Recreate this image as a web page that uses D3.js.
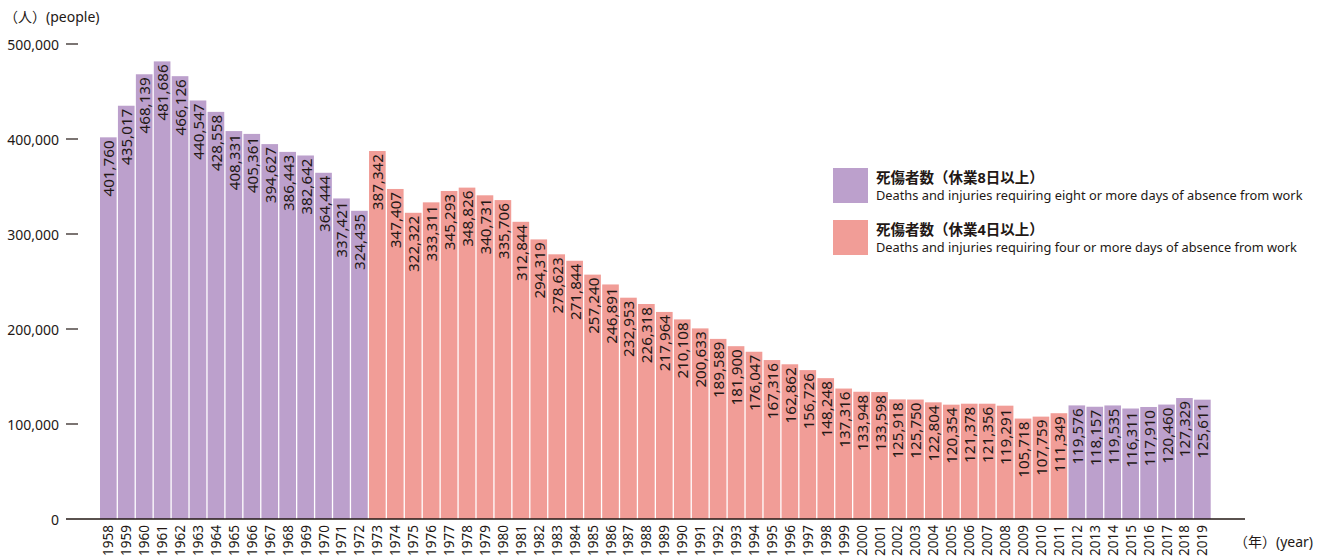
<!DOCTYPE html>
<html>
<head>
<meta charset="utf-8">
<script src="https://cdn.jsdelivr.net/npm/d3@7"></script>
<style>
  body { margin: 0; background: #fff; }
  * { font-family: "Noto Sans", "Noto Sans CJK JP", sans-serif; }
  text { fill: #231815; }
</style>
</head>
<body>
<svg id="chart" width="1325" height="559"></svg>
<script>
// data
var years = d3.range(1958, 2020).map(String);
var values = [401760, 435017, 468139, 481686, 466126, 440547, 428558, 408331, 405361, 394627,
  386443, 382642, 364444, 337421, 324435, 387342, 347407, 322322, 333311, 345293,
  348826, 340731, 335706, 312844, 294319, 278623, 271844, 257240, 246891, 232953,
  226318, 217964, 210108, 200633, 189589, 181900, 176047, 167316, 162862, 156726,
  148248, 137316, 133948, 133598, 125918, 125750, 122804, 120354, 121378, 121356,
  119291, 105718, 107759, 111349, 119576, 118157, 119535, 116311, 117910, 120460,
  127329, 125611];
// which series each year belongs to: 8 = eight+ days, 4 = four+ days
var series = years.map(function(y) { return (+y >= 1973 && +y <= 2011) ? "4" : "8"; });
var yTicks = [0, 100000, 200000, 300000, 400000, 500000];
var legendLabels = [
  { key: "8", jp: "死傷者数（休業8日以上）", en: "Deaths and injuries requiring eight or more days of absence from work" },
  { key: "4", jp: "死傷者数（休業4日以上）", en: "Deaths and injuries requiring four or more days of absence from work" }
];

var color = { "8": "#bca0cc", "4": "#f19d97" };

var svg = d3.select("#chart");

var x = d3.scaleBand().domain(years).range([100, 1212]).padding(0);
var y = d3.scaleLinear().domain([0, 500000]).range([519, 44]);

var fmt = d3.format(",");
var bw = x.bandwidth() - 1.3;

// bars
svg.selectAll("rect.bar")
  .data(values)
  .enter()
  .append("rect")
  .attr("class", "bar")
  .attr("x", function(d, i) { return x(years[i]); })
  .attr("y", function(d) { return y(d); })
  .attr("width", bw)
  .attr("height", function(d) { return y(0) - y(d); })
  .attr("fill", function(d, i) { return color[series[i]]; });

// value labels (rotated)
svg.selectAll("text.val")
  .data(values)
  .enter()
  .append("text")
  .attr("class", "val")
  .attr("transform", function(d, i) {
    return "translate(" + (x(years[i]) + bw / 2) + "," + (y(d) + 3) + ") rotate(-90)";
  })
  .attr("text-anchor", "end")
  .attr("dominant-baseline", "central")
  .style("font-size", "15.2px")
  .text(function(d) { return fmt(d); });

// baseline
svg.append("line")
  .attr("x1", 66).attr("x2", 1245)
  .attr("y1", y(0)).attr("y2", y(0))
  .attr("stroke", "#231815").attr("stroke-width", 1.5);

// y ticks
var yt = svg.selectAll("g.ytick")
  .data(yTicks)
  .enter()
  .append("g")
  .attr("class", "ytick")
  .attr("transform", function(d) { return "translate(0," + y(d) + ")"; });
yt.append("text")
  .attr("x", 59)
  .attr("text-anchor", "end")
  .attr("dominant-baseline", "central")
  .style("font-size", "14px")
  .text(function(d) { return fmt(d); });
yt.filter(function(d) { return d > 0; })
  .append("line")
  .attr("x1", 66).attr("x2", 78)
  .attr("stroke", "#231815").attr("stroke-width", 1.2);

// x labels
svg.selectAll("text.xl")
  .data(years)
  .enter()
  .append("text")
  .attr("class", "xl")
  .attr("transform", function(d) {
    return "translate(" + (x(d) + bw / 2) + "," + 525 + ") rotate(-90)";
  })
  .attr("text-anchor", "end")
  .attr("dominant-baseline", "central")
  .style("font-size", "13.5px")
  .text(function(d) { return d; });

// axis titles
svg.append("text").attr("x", 4).attr("y", 22)
  .style("font-size", "14px").text("（人）(people)");
svg.append("text").attr("x", 1234).attr("y", 547)
  .style("font-size", "14px").text("（年）(year)");

// legend
var lg = svg.selectAll("g.legend")
  .data(legendLabels)
  .enter()
  .append("g")
  .attr("class", "legend")
  .attr("transform", function(d, i) { return "translate(833," + (168 + i * 52) + ")"; });
lg.append("rect")
  .attr("width", 35).attr("height", 35)
  .attr("fill", function(d) { return color[d.key]; });
lg.append("text")
  .attr("x", 43).attr("y", 15)
  .style("font-size", "14.5px").style("font-weight", "bold")
  .text(function(d) { return d.jp; });
lg.append("text")
  .attr("x", 43).attr("y", 32)
  .style("font-size", "12.8px")
  .text(function(d) { return d.en; });
</script>
</body>
</html>
